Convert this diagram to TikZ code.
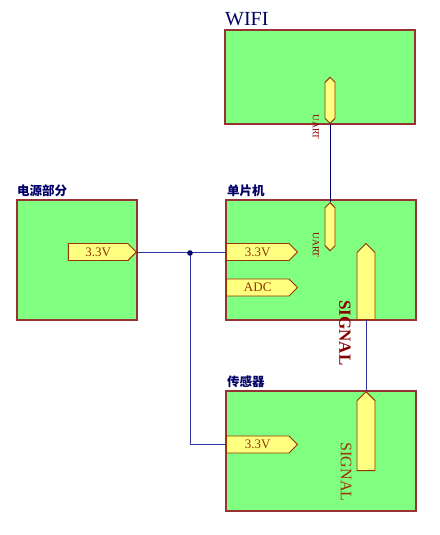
\documentclass[tikz,border=0pt]{standalone}
\usepackage{fontspec}
\setmainfont{Liberation Serif}
\newfontfamily\cjkfont{Noto Sans CJK SC}
\usetikzlibrary{shapes.symbols}
\definecolor{boxgreen}{HTML}{80FF80}
\definecolor{boxred}{HTML}{993333}
\definecolor{portyellow}{HTML}{FFFF80}
\definecolor{portbrown}{HTML}{993300}
\definecolor{labelred}{HTML}{880000}
\definecolor{wireblue}{HTML}{3333A0}
\definecolor{titlenavy}{HTML}{000066}
\begin{document}
\begin{tikzpicture}[x=1pt,y=-1pt,
    block/.style={rectangle,draw=boxred,fill=boxgreen,line width=1.2pt,inner sep=0pt},
    title/.style={anchor=base west,inner sep=0pt,text=titlenavy,font=\cjkfont\bfseries\fontsize{12.5}{14}\selectfont},
    pin/.style={signal,draw=portbrown,fill=portyellow,line width=0.9pt,inner sep=0pt,text=portbrown,font=\fontsize{13}{14}\selectfont},
    hpin/.style={pin,signal to=east,signal from=nowhere,minimum height=17pt},
    pinlabel/.style={rotate=-90,inner sep=0pt,text=labelred},
    wire/.style={draw=wireblue,line width=0.9pt}]
    \useasboundingbox (0,0) rectangle (439,535);

    % blocks
    \node[block,minimum width=190pt,minimum height=94pt] (wifi) at (320,77) {};
    \node[block,minimum width=190pt,minimum height=120pt] (mcu) at (321,260) {};
    \node[block,minimum width=120pt,minimum height=120pt] (power) at (77,260) {};
    \node[block,minimum width=190pt,minimum height=120pt] (sensor) at (321,451) {};

    \node[anchor=base west,inner sep=0pt,text=titlenavy,font=\fontsize{20}{22}\selectfont] (wifititle) at (225,26) {WIFI};
    \node[title] (mcutitle) at (227,195) {单片机};
    \node[title] (powertitle) at (17,195) {电源部分};
    \node[title] (sensortitle) at (227,386) {传感器};

    % ports
    \node[hpin,minimum width=68pt,anchor=east] (pw33) at (137,252) {3.3V\hspace{4pt}};
    \node[hpin,minimum width=71pt,anchor=west] (mcu33) at (226,252) {3.3V\hspace{4pt}};
    \node[hpin,minimum width=71pt,anchor=west] (mcuadc) at (226,287.5) {ADC\hspace{4pt}};
    \node[hpin,minimum width=71pt,anchor=west] (sen33) at (226,444.5) {3.3V\hspace{4pt}};
    \node[pin,signal to=north and south,minimum width=10pt,minimum height=36pt,anchor=south] (wifiuart) at (330,124) {};
    \node[pin,signal to=north and south,minimum width=10pt,minimum height=38pt,anchor=north] (mcuuart) at (330,202) {};
    \node[pin,signal to=north,signal from=nowhere,minimum width=18pt,minimum height=67pt,anchor=south] (mcusig) at (366,320) {};
    \node[pin,signal to=north,signal from=nowhere,minimum width=18pt,minimum height=70pt,anchor=north] (sensig) at (366,391) {};

    \node[pinlabel,font=\fontsize{9.5}{10}\selectfont] at (316,127) {UART};
    \node[pinlabel,font=\fontsize{9.5}{10}\selectfont] at (316,245) {UART};
    \node[pinlabel,font=\bfseries\fontsize{17}{18}\selectfont] at (345,333) {SIGNAL};
    \node[pinlabel,text=portbrown,font=\fontsize{16}{18}\selectfont] at (346,472) {SIGNAL};

    % wires
    \coordinate (junc) at (190,252);
    \path[wire]
        (pw33.east) edge (mcu33.west)
        (junc) edge[to path={|- (\tikztotarget)}] (sen33.west)
        (mcusig.south) edge (sensig.north);
    \draw[draw=titlenavy,line width=0.9pt] (wifiuart.south) -- (mcuuart.north);
    \fill[titlenavy] ([yshift=-1pt]junc) circle (2.8pt);
\end{tikzpicture}
\end{document}
